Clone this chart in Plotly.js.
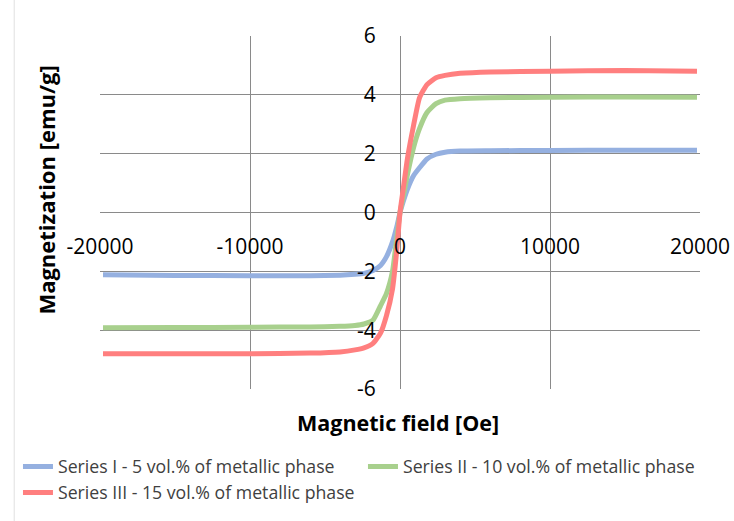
<!DOCTYPE html>
<html>
<head>
<meta charset="utf-8">
<script src="https://cdn.plot.ly/plotly-3.0.1.min.js"></script>
<style>html,body{margin:0;padding:0;background:#fff;}#chart{width:734px;height:521px;}</style>
</head>
<body>
<div id="chart"></div>
<script>
const field = [-19800,-15000,-10000,-6000,-4000,-3000,-2400,-1800,-1300,-900,-500,-200,0,200,500,900,1300,1800,2400,3000,4000,6000,10000,15000,19800];
const seriesI   = [-2.12,-2.14,-2.15,-2.15,-2.13,-2.10,-2.07,-1.97,-1.80,-1.50,-1.00,-0.45,0,0.35,0.80,1.25,1.52,1.82,1.98,2.05,2.09,2.10,2.11,2.12,2.12];
const seriesII  = [-3.92,-3.91,-3.90,-3.89,-3.87,-3.84,-3.79,-3.66,-3.17,-2.75,-2.00,-0.80,0,0.50,1.30,2.20,2.85,3.40,3.70,3.82,3.87,3.90,3.92,3.93,3.92];
const seriesIII = [-4.80,-4.80,-4.80,-4.78,-4.74,-4.67,-4.60,-4.45,-4.10,-3.50,-2.60,-1.20,0,0.75,1.85,2.95,3.90,4.35,4.58,4.66,4.73,4.78,4.80,4.83,4.80];
const names = ["Series I - 5 vol.% of metallic phase","Series II - 10 vol.% of metallic phase","Series III - 15 vol.% of metallic phase"];
const xTicks = [-20000,-10000,0,10000,20000];
const yTicks = [-6,-4,-2,0,2,4,6];
const xTitle = "Magnetic field [Oe]";
const yTitle = "Magnetization [emu/g]";

const colors = ["#95b0e0","#a8d08d","#ff7f7f"];
const ys = [seriesI, seriesII, seriesIII];
const traces = ys.map((y,i)=>({
  x: field, y: y, name: names[i], type: "scatter", mode: "lines",
  line: {color: colors[i], width: 5, shape: "spline", smoothing: 0.5}
}));

const F = "'Open Sans', sans-serif";
const layout = {
  width: 734, height: 521,
  margin: {l: 100, r: 34, t: 36, b: 132, autoexpand: false},
  paper_bgcolor: "#fff", plot_bgcolor: "#fff",
  font: {family: F, color: "#000"},
  showlegend: true,
  xaxis: {
    range: [-20000, 20000], tickvals: xTicks, ticktext: xTicks.map(String),
    anchor: "free", position: 0.5,
    showgrid: true, gridcolor: "#8a8a8a", gridwidth: 1, zeroline: false,
    showline: false, ticks: "outside", ticklen: 15, tickcolor: "rgba(0,0,0,0)",
    tickfont: {size: 21, family: F, color: "#000"}, fixedrange: true
  },
  yaxis: {
    range: [-6, 6], tickvals: yTicks, ticktext: yTicks.map(String),
    anchor: "free", position: 0.5,
    showgrid: true, gridcolor: "#8a8a8a", gridwidth: 1, zeroline: false,
    showline: false, ticks: "outside", ticklen: 20, tickcolor: "rgba(0,0,0,0)",
    tickfont: {size: 21, family: F, color: "#000"}, fixedrange: true
  },
  legend: {
    orientation: "h",
    x: -0.1367, xanchor: "left", y: -0.1686, yanchor: "top",
    font: {size: 17.7, family: F, color: "#404040"},
    entrywidth: 300, entrywidthmode: "pixels", tracegroupgap: 0, itemwidth: 30
  },
  annotations: [
    {text: "<b>" + xTitle + "</b>", xref: "paper", yref: "paper", x: 0.497, y: -0.094,
     xanchor: "center", yanchor: "middle", showarrow: false, font: {size: 21.5, family: F, color: "#000"}},
    {text: "<b>" + yTitle + "</b>", xref: "paper", yref: "paper", x: -0.09, y: 0.562,
     xanchor: "center", yanchor: "middle", showarrow: false, textangle: -90, font: {size: 22, family: F, color: "#000"}}
  ],
  shapes: [
    {type: "line", xref: "paper", yref: "paper", x0: -0.143, x1: -0.143, y0: -0.4, y1: 1.2,
     line: {color: "#e0e0e0", width: 1}}
  ]
};
Plotly.newPlot("chart", traces, layout, {displayModeBar: false, staticPlot: true});
</script>
</body>
</html>
